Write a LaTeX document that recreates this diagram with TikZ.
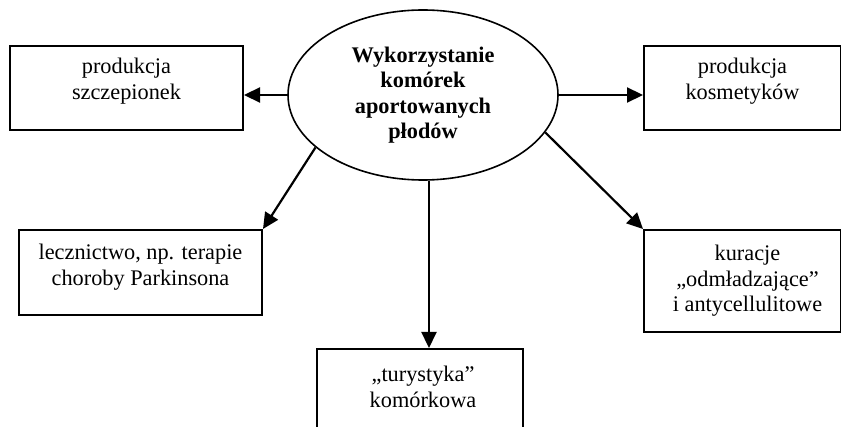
\documentclass[tikz,border=0pt]{standalone}
\usepackage{fontspec}
\setmainfont{Liberation Serif}
\usetikzlibrary{arrows.meta,shapes.geometric}
\begin{document}
\begin{tikzpicture}[x=1pt,y=-1pt,
  box/.style={draw,line width=2pt,inner sep=0pt,anchor=north west},
  lbl/.style={align=center,font=\fontsize{22.3}{25.5}\selectfont,inner sep=0pt,anchor=north,
    execute at begin node=\rule{0pt}{17pt}},
  arr/.style={line width=2.2pt,-{Triangle[length=16pt,width=15pt]}}]
\useasboundingbox (0,0) rectangle (841,427);
\clip (0,0) rectangle (841,427);
% central ellipse
\node[ellipse,draw,line width=1.6pt,minimum width=270pt,minimum height=170pt,inner sep=0pt,
  align=center,font=\fontsize{22.3}{25.5}\selectfont\bfseries] (e) at (423,95)
  {Wykorzystanie\\komórek\\aportowanych\\płodów};
% boxes
\node[box,minimum width=233pt,minimum height=84pt] (b1) at (9,45) {};
\node[box,minimum width=197pt,minimum height=84pt] (b2) at (643,45) {};
\node[box,minimum width=243pt,minimum height=85pt] (b3) at (18,229) {};
\node[box,minimum width=206pt,minimum height=110pt] (b4) at (316,348) {};
\node[box,minimum width=197pt,minimum height=102pt] (b5) at (643,229) {};
% texts
\node[lbl] (t1) at ([yshift=-13pt]b1.north) {produkcja\\szczepionek};
\node[lbl] (t2) at ([yshift=-13pt]b2.north) {produkcja\\kosmetyków};
\node[lbl] (t3) at ([yshift=-15pt]b3.north) {lecznictwo, np. terapie\\choroby Parkinsona};
\node[lbl] (t4) at ([xshift=3pt,yshift=-18pt]b4.north) {„turystyka”\\komórkowa};
\node[lbl] (t5) at ([xshift=5pt,yshift=-16pt]b5.north) {kuracje\\„odmładzające”\\i antycellulitowe};
% connectors
\draw[arr] (e.west) -- (e.west -| b1.east);
\draw[arr] (e.east) -- (e.east -| b2.west);
\draw[arr] (e.206) -- (b3.north east);
\draw[arr] (e.274) -- (e.274 |- b4.north);
\draw[arr] (e.343) -- (b5.north west);
\end{tikzpicture}
\end{document}
